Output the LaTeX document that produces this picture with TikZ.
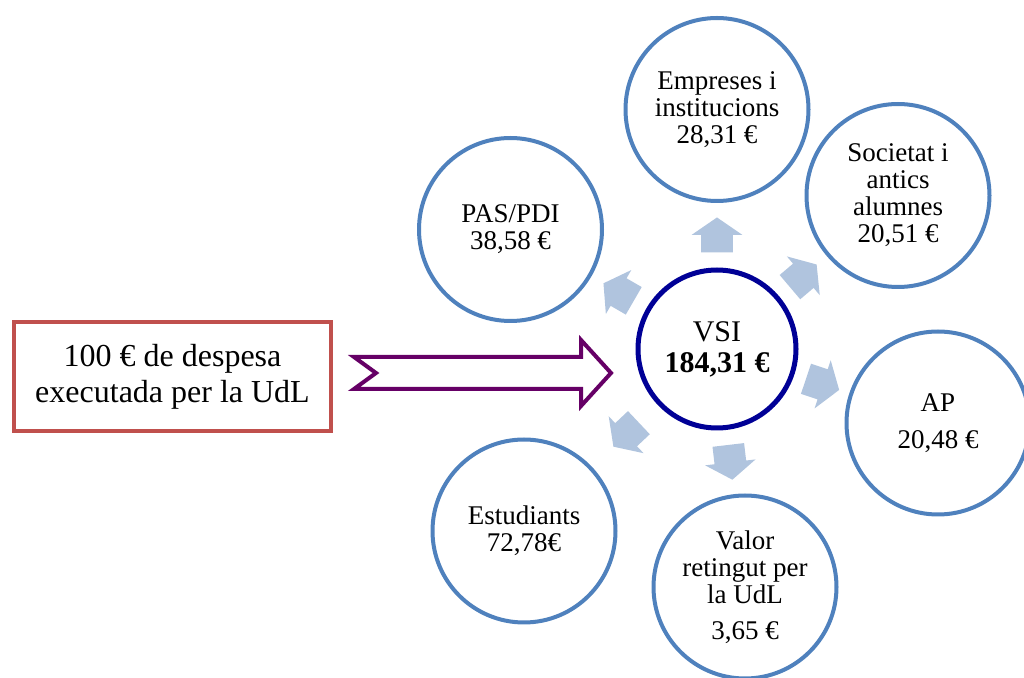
\documentclass[tikz,border=0pt]{standalone}
\usepackage{fontspec}
\setmainfont{Liberation Serif}
\usetikzlibrary{shapes.arrows}

\definecolor{ringblue}{RGB}{79,129,189}
\definecolor{corenavy}{RGB}{0,0,150}
\definecolor{spokeblue}{RGB}{176,196,222}
\definecolor{flowpurple}{RGB}{102,0,102}
\definecolor{boxred}{RGB}{192,80,77}

\tikzset{
  ring/.style={circle, draw=ringblue, fill=white, line width=2pt, minimum size=91.5pt,
    inner sep=0pt, align=center, font=\fontsize{13.5}{13.5}\selectfont},
  core/.style={circle, draw=corenavy, fill=white, line width=2.5pt, minimum size=79pt,
    inner sep=0pt, align=center, font=\fontsize{15}{15.5}\selectfont},
  spoke/.style={single arrow, fill=spokeblue, draw=none, inner sep=0pt, inner ysep=7.75pt,
    minimum height=17.5pt, single arrow head extend=4.75pt, single arrow tip angle=111},
  source/.style={rectangle, draw=boxred, line width=2pt, minimum width=158.5pt,
    minimum height=54.5pt, align=center, font=\fontsize{16}{18}\selectfont}
}

\begin{document}
\begin{tikzpicture}[x=0.5pt,y=-0.5pt]
\useasboundingbox (0,0) rectangle (1024,678);
\clip (0,0) rectangle (1024,678);

% centre and the six groups
\node[core] (vsi) at (717,349) {VSI\\\textbf{184,31 €}};
\node[ring] (emp) at (717,109.5) {Empreses i\\institucions\\28,31 €};
\node[ring] (soc) at (898,195.5) {Societat i\\antics\\alumnes\\20,51 €};
\node[ring] (ap) at (938,423) {AP\\[5pt]20,48 €};
\node[ring] (ret) at (745,587) {Valor\\retingut per\\la UdL\\[4.5pt]3,65 €};
\node[ring] (est) at (524,531) {Estudiants\\72,78€};
\node[ring] (pas) at (510.5,229.5) {PAS/PDI\\38,58 €};

\foreach \dest in {emp,soc,ap,ret,est,pas}
  \path (vsi) -- (\dest) node[pos=0.42, sloped, allow upside down, spoke] {};

% input box and hollow arrow
\node[source] (udl) at (172.5,376.5) {100 € de despesa\\executada per la UdL};
\coordinate (tail) at (354,373);
\coordinate (tip) at (611,373);
\draw[flowpurple, fill=white, line width=2pt, line join=miter]
  (tail) ++(0,-16) -- ++(22,16) -- ++(-22,16) -- ++(227,0) -- ++(0,17)
  -- (tip) -- ++(-30,-33) -- ++(0,17) -- cycle;
\end{tikzpicture}
\end{document}
